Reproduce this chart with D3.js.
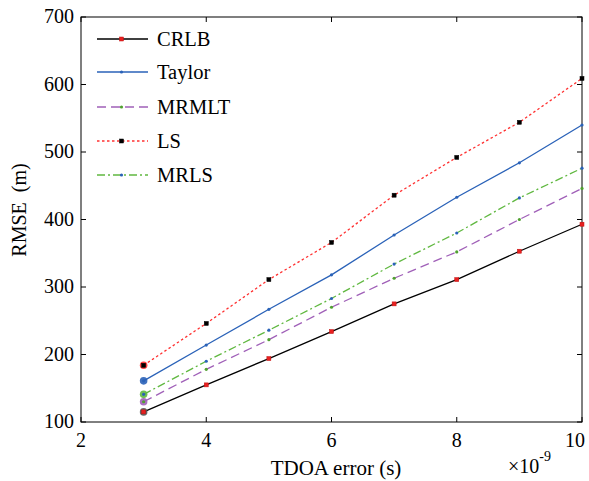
<!DOCTYPE html>
<html><head><meta charset="utf-8">
<script src="https://cdn.jsdelivr.net/npm/d3@7"></script>
<style>body{margin:0;background:#fff}svg{display:block}</style>
</head><body>
<script>
const xs = [3,4,5,6,7,8,9,10];
const crlb  = [115,155,194,234,275,311,353,393];
const taylor= [161,214,267,318,377,433,484,540];
const mrmlt = [130,178,222,270,313,352,400,446];
const ls    = [184,246,311,366,436,492,544,609];
const mrls  = [141,190,236,283,334,380,432,476];
const xTicks = [2,4,6,8,10];
const yTicks = [100,200,300,400,500,600,700];
const seriesNames = ["CRLB","Taylor","MRMLT","LS","MRLS"];

const W=589,H=481;
const svg=d3.select("body").append("svg").attr("width",W).attr("height",H);
const x=d3.scaleLinear().domain([2,10]).range([81,582]);
const y=d3.scaleLinear().domain([100,700]).range([422,17]);

const series=[
 {name:"CRLB",v:crlb,color:"#000000",dash:null,mk:"square",mc:"#e82020"},
 {name:"Taylor",v:taylor,color:"#2a62b8",dash:null,mk:"dot",mc:"#2a62b8"},
 {name:"MRMLT",v:mrmlt,color:"#a060b8",dash:"9,5",mk:"dot",mc:"#50a030"},
 {name:"LS",v:ls,color:"#ff3030",dash:"2.5,2.5",mk:"square",mc:"#000000"},
 {name:"MRLS",v:mrls,color:"#60b840",dash:"8,3,2,3",mk:"dot",mc:"#2a62b8"}
];

svg.append("rect").attr("x",81).attr("y",17).attr("width",501).attr("height",405)
  .attr("fill","none").attr("stroke","#000").attr("stroke-width",1);

const g=svg.append("g");
xTicks.forEach(t=>{
  g.append("line").attr("x1",x(t)).attr("x2",x(t)).attr("y1",422).attr("y2",417).attr("stroke","#000");
  g.append("line").attr("x1",x(t)).attr("x2",x(t)).attr("y1",17).attr("y2",22).attr("stroke","#000");
  g.append("text").attr("x",t===10?575:x(t)).attr("y",447).attr("text-anchor","middle").attr("font-size",20).text(t);
});
yTicks.forEach(t=>{
  g.append("line").attr("x1",81).attr("x2",86).attr("y1",y(t)).attr("y2",y(t)).attr("stroke","#000");
  g.append("line").attr("x1",582).attr("x2",577).attr("y1",y(t)).attr("y2",y(t)).attr("stroke","#000");
  g.append("text").attr("x",74).attr("y",y(t)+6).attr("text-anchor","end").attr("font-size",20).text(t);
});

svg.append("text").attr("x",336).attr("y",475).attr("text-anchor","middle").attr("font-size",21).text("TDOA error (s)");
svg.append("text").attr("transform","translate(26,210) rotate(-90)").attr("text-anchor","middle").attr("font-size",20).style("white-space","pre").text("RMSE  (m)");
const e=svg.append("text").attr("x",508).attr("y",473).attr("font-size",20);
e.append("tspan").text("×10");
e.append("tspan").attr("dy",-12).attr("font-size",14).text("-9");

const line=d3.line().x((d,i)=>x(xs[i])).y(d=>y(d));
function marker(sel,s,cx,cy){
  if(s.mk==="square") sel.append("rect").attr("x",cx-2).attr("y",cy-2).attr("width",4).attr("height",4).attr("fill",s.mc).attr("stroke",s.mc==="#000000"?"#000":"#c01010").attr("stroke-width",0.5);
  else sel.append("circle").attr("cx",cx).attr("cy",cy).attr("r",1.6).attr("fill",s.mc);
}
series.forEach(s=>{
  svg.append("path").datum(s.v).attr("d",line).attr("fill","none").attr("stroke",s.color).attr("stroke-width",1.3)
    .attr("stroke-dasharray",s.dash);
  svg.append("circle").attr("cx",x(xs[0])).attr("cy",y(s.v[0])).attr("r",3.8).attr("fill",s.name==="LS"?"#ff3030":s.color==="#000000"?"#555":s.color).attr("opacity",0.9);
  s.v.forEach((d,i)=>marker(svg,s,x(xs[i]),y(d)));
});

const ly=[39,72,107,141,175];
series.forEach((s,i)=>{
  svg.append("line").attr("x1",97).attr("x2",148).attr("y1",ly[i]).attr("y2",ly[i]).attr("stroke",s.color).attr("stroke-width",1.3).attr("stroke-dasharray",s.dash);
  marker(svg,s,121.5,ly[i]);
  svg.append("text").attr("x",157).attr("y",ly[i]+7).attr("font-size",20.5).text(seriesNames[i]);
});
svg.selectAll("text").style("font-family",'"Liberation Serif"');
</script>
</body></html>
